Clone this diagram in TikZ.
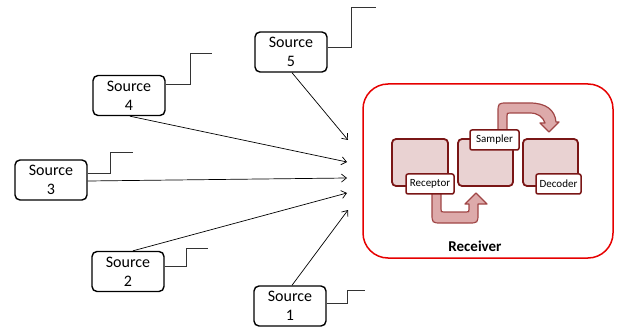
\documentclass[tikz,border=0pt]{standalone}
\usepackage{fontspec}
\setmainfont{Carlito}
\usetikzlibrary{arrows.meta}
\definecolor{boxfill}{RGB}{233,210,210}
\definecolor{boxline}{RGB}{122,22,22}
\definecolor{arrfill}{RGB}{221,170,170}
\definecolor{arrline}{RGB}{160,70,70}
\definecolor{recred}{RGB}{230,0,0}
\begin{document}
\begin{tikzpicture}[x=1pt,y=-1pt,
  src/.style={draw, line width=1.4, rounded corners=5, minimum width=72, minimum height=40,
    inner sep=0, align=center, font=\fontsize{16}{19}\selectfont},
  sig/.style={draw=black!80, line width=0.9},
  flow/.style={draw, line width=0.7, -{Straight Barb[length=5pt,width=8pt]}},
  ibox/.style={draw=boxline, fill=boxfill, line width=1.8, rounded corners=4, inner sep=0},
  lbl/.style={draw=boxline, fill=white, line width=1.5, rounded corners=2, inner sep=0,
    minimum height=20, font=\fontsize{11}{13}\selectfont},
  uarr/.style={draw=arrline, fill=arrfill, line width=1.2, line join=round}]
\useasboundingbox (0,0) rectangle (618,331);

% sources
\node[src] (s5) at (291,52) {Source\\5};
\node[src] (s4) at (129,95.5) {Source\\4};
\node[src] (s3) at (51,180) {Source\\3};
\node[src] (s2) at (128,271.5) {Source\\2};
\node[src] (s1) at (290,306) {Source\\1};

% signal steps
\coordinate (g5) at (351,7);
\coordinate (g4) at (190,53);
\coordinate (g3) at (110,152);
\coordinate (g2) at (186,248);
\coordinate (g1) at (347,290);
\draw[sig] ([yshift=5pt]s5.east) -| (g5) -- ++(25,0);
\draw[sig] ([yshift=11pt]s4.east) -| (g4) -- ++(22,0);
\draw[sig] ([yshift=7pt]s3.east) -| (g3) -- ++(23,0);
\draw[sig] ([yshift=5pt]s2.east) -| (g2) -- ++(22,0);
\draw[sig] ([yshift=3pt]s1.east) -| (g1) -- ++(18,0);

% receiver
\node[draw=recred, line width=1.5, rounded corners=25, minimum width=250, minimum height=174, inner sep=0] (rx) at (488,171) {};

% flow arrows
\coordinate (t5) at (348,140);
\coordinate (t4) at (347,162);
\coordinate (t3) at (347,178);
\coordinate (t2) at (347,193);
\coordinate (t1) at (348,210);
\draw[flow] ([xshift=1pt]s5.south) -- (t5);
\draw[flow] ([xshift=1pt]s4.south) -- (t4);
\draw[flow] ([yshift=-1pt]s3.east) -- (t3);
\draw[flow] ([xshift=5pt]s2.north) -- (t2);
\draw[flow] ([xshift=2pt]s1.north) -- (t1);

% inner blocks
\node[ibox, minimum width=56, minimum height=47] (b1) at (420,162.5) {};
\node[ibox, minimum width=55, minimum height=47] (b2) at (485.5,162.5) {};
\node[ibox, minimum width=55, minimum height=47] (b3) at (550.5,162.5) {};

% U arrows
\draw[uarr] (432,190) -- (432,213) .. controls (432,223) .. (442,223) -- (468,223)
  .. controls (478,223) .. (478,213) -- (478,204) -- (487,204) -- (476,193) -- (465,204)
  -- (469,204) -- (469,209) .. controls (469,212) .. (466,212) -- (444,212)
  .. controls (441,212) .. (441,209) -- (441,190) -- cycle;
\draw[uarr] (498,135) -- (498,113) .. controls (498,103) .. (508,103) -- (530,103)
  .. controls (546,103) and (555,110) .. (556,122) -- (559,122) -- (549,132) -- (540,123)
  -- (545,123) .. controls (543,117) and (538,113) .. (530,113) -- (510,113)
  .. controls (507,113) .. (507,116) -- (507,135) -- cycle;

% labels
\node[lbl, minimum width=48] (l1) at (430,184) {Receptor};
\node[lbl, minimum width=49] (l2) at (494.5,140) {Sampler};
\node[lbl, minimum width=45] (l3) at (558.5,184) {Decoder};

\node[font=\bfseries\fontsize{15}{18}\selectfont] (rl) at (475,246) {Receiver};
\end{tikzpicture}
\end{document}
